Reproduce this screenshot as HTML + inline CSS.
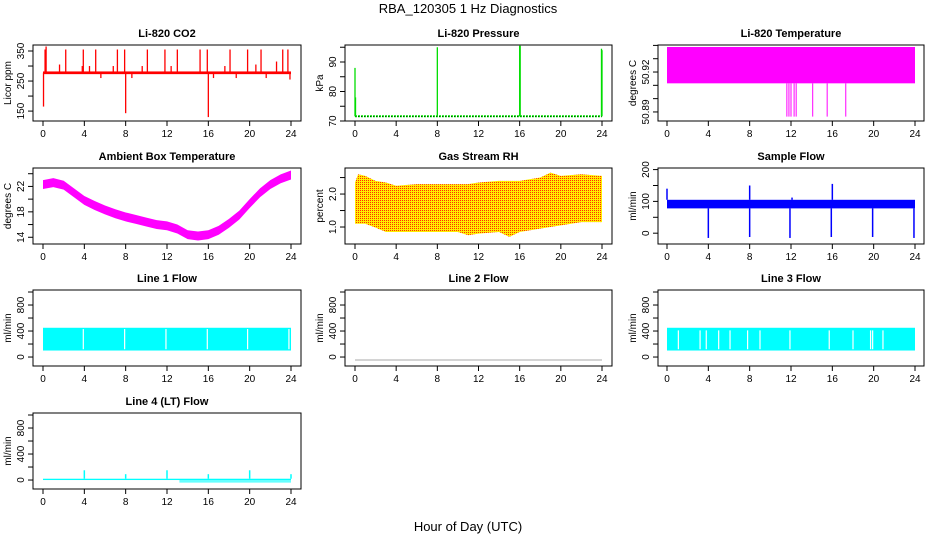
<!DOCTYPE html>
<html><head><meta charset="utf-8"><style>
html,body{margin:0;padding:0;background:#fff;}
svg{display:block;font-family:"Liberation Sans",sans-serif;}
</style></head><body>
<svg id="chart" width="936" height="540" viewBox="0 0 936 540" xmlns="http://www.w3.org/2000/svg">
<defs>
<pattern id="rhpat" width="2" height="2" patternUnits="userSpaceOnUse">
<rect width="2" height="2" fill="#ffee00"/><rect width="1" height="1" fill="#ff3000"/>
</pattern>
</defs>
<text x="468" y="13" font-size="13" text-anchor="middle">RBA_120305  1 Hz Diagnostics</text>
<text x="468" y="531" font-size="13" text-anchor="middle">Hour of Day (UTC)</text>
</svg>
<script>
// ---- data arrays (hours, values) ----
const xTicks = [0,4,8,12,16,20,24];
// CO2
const co2Base = [273, 282];
const co2SpikeHours = [0.05,0.2,0.3,1.6,2.2,3.2,3.8,3.9,4.5,5.1,5.6,6.8,7.2,7.9,8.0,8.6,9.6,10.1,10.8,11.8,12.4,13.0,13.5,14.5,15.2,15.9,16.0,16.5,17.6,18.1,18.7,19.8,20.6,21.1,21.6,22.2,22.6,23.2,23.7,23.9];
const co2SpikeVals  = [165,355,365,305,355,280,300,355,300,355,260,300,355,355,143,260,300,355,280,355,300,355,280,280,355,355,130,260,300,355,260,355,305,355,260,280,315,355,355,255];
// Pressure
const presBase = 71.6;
const presSpikeHours = [0.0,0.05,8.0,16.0,16.05,23.95,24.0];
const presSpikeVals  = [88,78,95,95.5,95.5,94.5,94];
// Li-820 Temperature
const tempBand = [50.9115, 50.9388];
const tempDropHours = [11.6,11.8,12.0,12.3,12.5,14.1,15.5,17.3];
const tempDropVals  = [50.8865,50.8865,50.8865,50.8865,50.8865,50.8865,50.8865,50.8865];
// Ambient box temperature
const ambHours = [0,1,2,3,4,5,6,7,8,9,10,11,12,13,14,15,16,17,18,19,20,21,22,23,24];
const ambVals  = [22.3,22.6,22.2,21.0,19.8,19.0,18.3,17.7,17.2,16.8,16.4,16.0,15.8,15.3,14.4,14.2,14.4,15.1,16.2,17.5,19.3,21.0,22.3,23.2,23.8];
// Gas stream RH
const rhHours = [0,0.3,1,2,3,4,6,8,10,11,12,14,15,16,18,19,20,22,24];
const rhTop   = [2.35,2.6,2.55,2.4,2.35,2.25,2.3,2.3,2.3,2.3,2.35,2.4,2.4,2.4,2.5,2.65,2.55,2.6,2.55];
const rhBot   = [1.1,1.1,1.1,0.98,0.85,0.85,0.85,0.85,0.85,0.75,0.8,0.85,0.7,0.85,0.95,1.0,1.05,1.15,1.15];
// Sample flow
const sfBand = [78, 105];
const sfDropHours = [4.0,8.0,11.9,15.9,19.9,23.9];
const sfDropVals  = [-15,-12,-15,-12,-12,-15];
const sfSpikeHours = [0.0,8.0,16.0,12.1];
const sfSpikeVals  = [140,150,155,112];
// Line 1 flow
const l1Band = [100, 450];
const l1GapHours = [3.9,7.9,11.9,15.9,19.8,23.8];
// Line 2 flow
const l2Val = -45;
// Line 3 flow
const l3Band = [100, 450];
const l3GapHours = [1.1,3.2,3.8,5.0,6.1,7.8,9.0,11.9,15.7,18.0,19.7,19.9,20.9];
// Line 4 flow
const l4Band = [0, 20];
const l4SpikeHours = [4.0,8.0,12.0,16.0,20.0,24.0];
const l4SpikeVals  = [150,90,150,90,150,90];
const l4NegStart = 13.2, l4NegVal = -40;

const NS = "http://www.w3.org/2000/svg";
const svg = document.getElementById('chart');
function el(tag, attrs, parent){const e=document.createElementNS(NS,tag);for(const k in attrs)e.setAttribute(k,attrs[k]);(parent||svg).appendChild(e);return e;}

const cols=[{l:33,r:301,x0:43,x24:291},{l:345,r:612,x0:355,x24:602},{l:658,r:924,x0:667,x24:915}];
const rows=[45,168,290,413];
const H=76;

function panel(name,col,row,title,ylab,ymin,ymax,yticks,ylabels){
  const c=cols[col],top=rows[row],bot=top+H;
  const g=el('g',{});
  
  
  const X=h=>c.x0+(h/24)*(c.x24-c.x0);
  const Y=v=>top+(ymax-v)/(ymax-ymin)*H;
  const t=el('text',{x:(c.l+c.r)/2,y:top-8,'font-size':11,'font-weight':'bold','text-anchor':'middle'},g);
  t.textContent=title;
  
  
  const b=el('rect',{x:c.l,y:top,width:c.r-c.l,height:H,fill:'none',stroke:'#000','stroke-width':1},g);
  
  
  xTicks.forEach(h=>{
    el('line',{x1:X(h),x2:X(h),y1:bot,y2:bot+5,stroke:'#000'},g);
    const tx=el('text',{x:X(h),y:bot+16,'font-size':10,'text-anchor':'middle'},g);tx.textContent=h;
    
    
  });
  yticks.forEach(v=>{el('line',{x1:c.l,x2:c.l-5,y1:Y(v),y2:Y(v),stroke:'#000'},g);});
  ylabels.forEach(v=>{
    const tx=el('text',{x:0,y:0,'font-size':10,'text-anchor':'middle',transform:`translate(${c.l-9},${Y(v)}) rotate(-90)`},g);tx.textContent=v;
    
    
  });
  const yt=el('text',{x:0,y:0,'font-size':10,'text-anchor':'middle',transform:`translate(${c.l-22},${(top+bot)/2}) rotate(-90)`},g);yt.textContent=ylab;
  
  
  return {g,X,Y,top,bot};
}
function vline(p,h,v1,v2,color,w){const l=el('line',{x1:p.X(h),x2:p.X(h),y1:p.Y(v1),y2:p.Y(v2),stroke:color,'stroke-width':w||1},p.g);return l;}
function band(p,lo,hi,color,h0,h1){const r=el('rect',{x:p.X(h0==null?0:h0),y:p.Y(hi),width:p.X(h1==null?24:h1)-p.X(h0==null?0:h0),height:p.Y(lo)-p.Y(hi),fill:color},p.g);return r;}

// 1 CO2
let p=panel('co2-panel',0,0,'Li-820 CO2','Licor ppm',117,370,[150,200,250,300,350],[150,250,350]);
band(p,co2Base[0],co2Base[1],'#ff0000');
co2SpikeHours.forEach((h,i)=>vline(p,h,(co2Base[0]+co2Base[1])/2,co2SpikeVals[i],'#ff0000',1.3));
// 2 Pressure
p=panel('pressure-panel',1,0,'Li-820 Pressure','kPa',70,95.76,[70,75,80,85,90,95],[70,80,90]);
{const l=el('line',{x1:p.X(0),x2:p.X(24),y1:p.Y(presBase),y2:p.Y(presBase),stroke:'#00dd00','stroke-width':2,'stroke-dasharray':'2,1'},p.g);}
{const l=el('line',{x1:p.X(0),x2:p.X(24),y1:p.Y(presBase),y2:p.Y(presBase),stroke:'#000','stroke-width':0.6,'stroke-dasharray':'1,2'},p.g);}
presSpikeHours.forEach((h,i)=>{vline(p,h,presBase,presSpikeVals[i],'#00dd00',1.3);});
// 3 Temperature
p=panel('licor-temperature-panel',2,0,'Li-820 Temperature','degrees C',50.8832,50.9403,[50.89,50.90,50.91,50.92,50.93,50.94],[50.89,50.92]);
band(p,tempBand[0],tempBand[1],'#ff00ff');
tempDropHours.forEach((h,i)=>vline(p,h,tempBand[0],tempDropVals[i],'#ff00ff',1));
// 4 Ambient
p=panel('ambient-temperature-panel',0,1,'Ambient Box Temperature','degrees C',12.94,24.9,[14,16,18,20,22,24],[14,18,22]);
{let pts=ambHours.map((h,i)=>p.X(h)+','+p.Y(ambVals[i]+0.7)).concat(ambHours.slice().reverse().map((h,j)=>{const i=ambHours.length-1-j;return p.X(h)+','+p.Y(ambVals[i]-0.7);}));
const pg=el('polygon',{points:pts.join(' '),fill:'#ff00ff'},p.g);}
// 5 RH
p=panel('gas-rh-panel',1,1,'Gas Stream RH','percent',0.485,2.79,[1.0,1.5,2.0,2.5],['1.0','2.0']);
{let pts=rhHours.map((h,i)=>p.X(h)+','+p.Y(rhTop[i])).concat(rhHours.slice().reverse().map((h,j)=>{const i=rhHours.length-1-j;return p.X(h)+','+p.Y(rhBot[i]);}));
const pg=el('polygon',{points:pts.join(' '),fill:'url(#rhpat)'},p.g);}
// 6 Sample flow
p=panel('sample-flow-panel',2,1,'Sample Flow','ml/min',-34,205,[0,50,100,150,200],[0,100,200]);
band(p,sfBand[0],sfBand[1],'#0000ff');
sfDropHours.forEach((h,i)=>vline(p,h,sfBand[0],sfDropVals[i],'#0000ff',1.5));
sfSpikeHours.forEach((h,i)=>vline(p,h,sfBand[1],sfSpikeVals[i],'#0000ff',1.5));
const flowTicks=[0,200,400,600,800,1000],flowLabels=[0,400,800];
// 7 Line 1
p=panel('line1-flow-panel',0,2,'Line 1 Flow','ml/min',-138,1031,flowTicks,flowLabels);
band(p,l1Band[0],l1Band[1],'#00ffff');
l1GapHours.forEach(h=>vline(p,h,l1Band[0]+20,l1Band[1]-20,'#ffffff',1.2));
// 8 Line 2
p=panel('line2-flow-panel',1,2,'Line 2 Flow','ml/min',-138,1031,flowTicks,flowLabels);
{const l=el('line',{x1:p.X(0),x2:p.X(24),y1:p.Y(l2Val),y2:p.Y(l2Val),stroke:'#aaaaaa','stroke-width':1},p.g);}
// 9 Line 3
p=panel('line3-flow-panel',2,2,'Line 3 Flow','ml/min',-138,1031,flowTicks,flowLabels);
band(p,l3Band[0],l3Band[1],'#00ffff');
l3GapHours.forEach(h=>vline(p,h,l3Band[0]+20,l3Band[1]-40,'#ffffff',1.2));
// 10 Line 4
p=panel('line4-flow-panel',0,3,'Line 4 (LT) Flow','ml/min',-138,1031,flowTicks,flowLabels);
band(p,l4Band[0],l4Band[1],'#00ffff');
band(p,l4NegVal,l4Band[0],'#00ffff',l4NegStart,24).setAttribute('opacity','0.6');
l4SpikeHours.forEach((h,i)=>vline(p,h,l4Band[1],l4SpikeVals[i],'#00ffff',1.5));
</script>
</body></html>
